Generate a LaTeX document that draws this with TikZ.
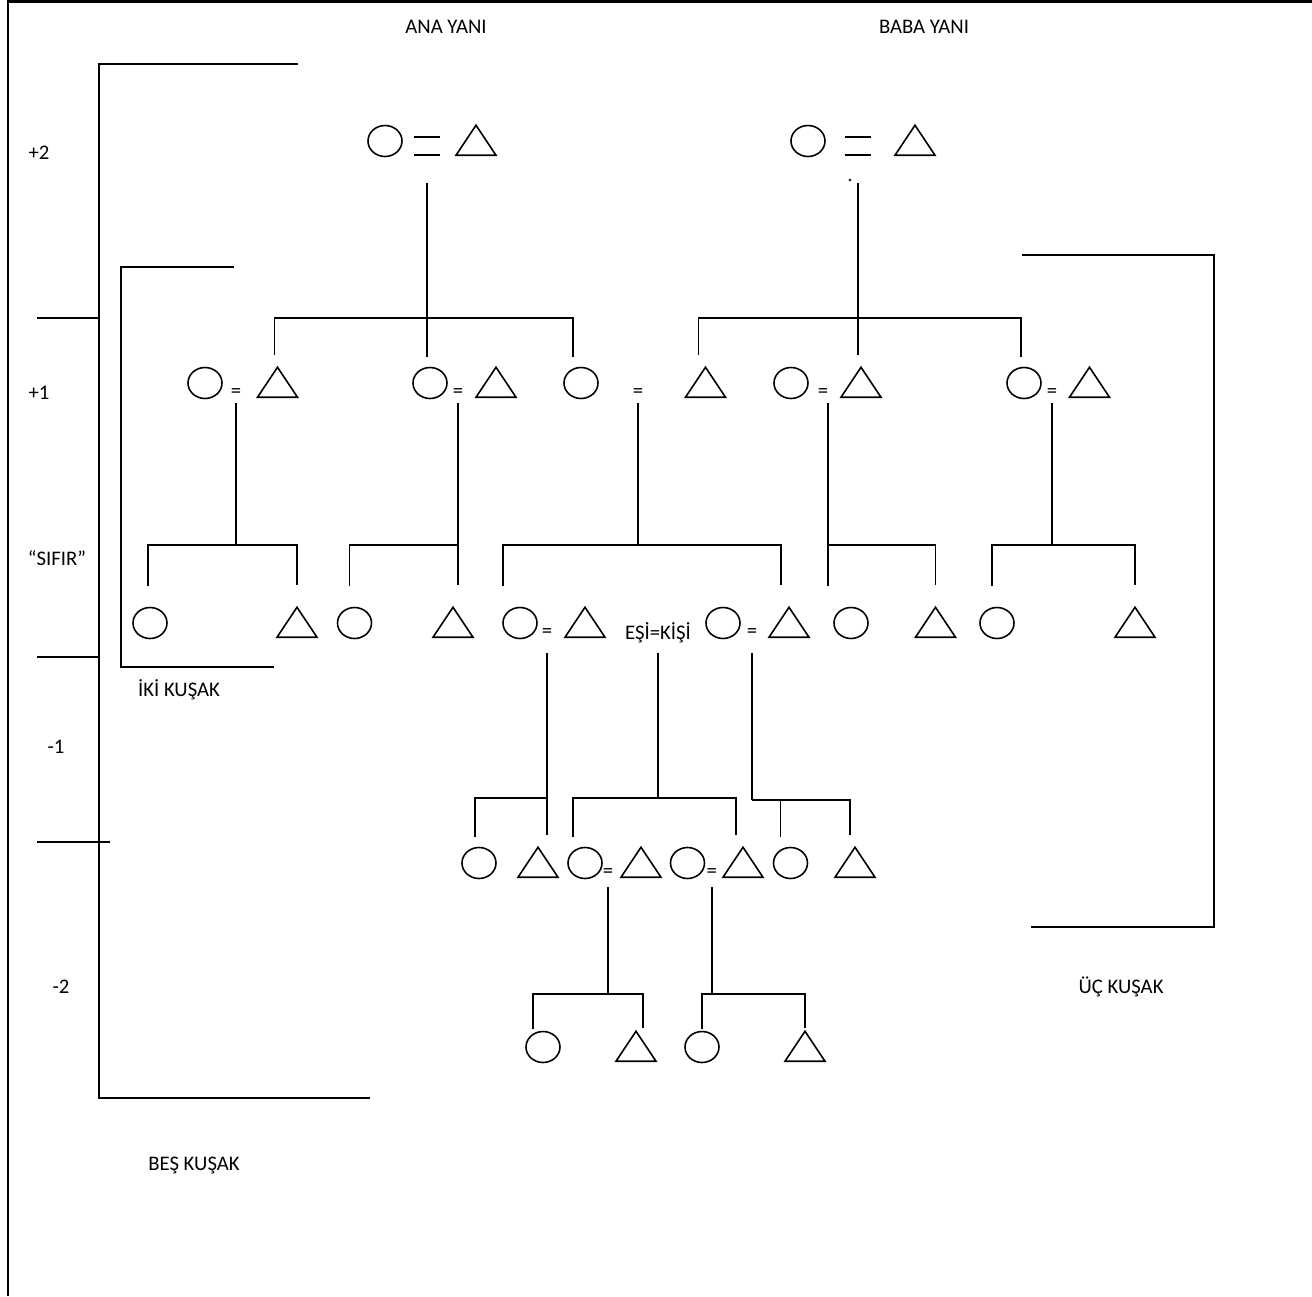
\documentclass[tikz,border=0pt]{standalone}
\usepackage{fontspec}
\setmainfont{Carlito}
\usetikzlibrary{positioning,shapes.geometric,calc}

\begin{document}
\begin{tikzpicture}[
    x=0.02cm, y=-0.02cm,
    font=\fontsize{11.8}{14}\selectfont,
    line/.style={line width=1.1pt},
    kad/.style={ellipse, draw, line width=0.9pt, minimum width=0.68cm,
      minimum height=0.62cm, inner sep=0pt},
    erk/.style={isosceles triangle, isosceles triangle stretches,
      shape border rotate=90, draw, line width=0.9pt, minimum width=0.8cm,
      minimum height=0.6cm, inner sep=0pt, anchor=south, yshift=-0.3cm},
    es/.style={inner sep=0pt},
    bigeq/.style={inner sep=0pt, minimum width=0.52cm, minimum height=0.33cm},
    kid/.style={line, shorten <=#1, shorten >=#1},
    lab/.style={inner sep=0pt},
  ]
\useasboundingbox (0,0) rectangle (1312,1296);

% Page frame
\draw[line width=1.4pt] (8,1296) -- (8,1.5) -- (1312,1.5);

% Side labels
\node[lab] (ana) at (446,27) {ANA YANI};
\node[lab] (baba) at (924,27) {BABA YANI};
\node[lab] (g2) at (39,153) {+2};
\node[lab] (g1) at (39,393) {+1};
\node[lab] (g0) at (57,558) {“SIFIR”};
\node[lab] (gm1) at (56,747) {-1};
\node[lab] (gm2) at (61,987) {-2};
\node[lab] (iki) at (179,690) {İKİ KUŞAK};
\node[lab] (bes) at (194,1165) {BEŞ KUŞAK};
\node[lab] (uc) at (1121,987) {ÜÇ KUŞAK};

% Brackets
\draw[line] (298,64) -- (99,64) -- (99,1098) -- (370,1098);
\draw[line] (37,318) -- (99,318) (37,657) -- (99,657) (37,842) -- (110,842);
\draw[line] (234,267) -- (121,267) -- (121,667) -- (274,667);
\draw[line] (1022,255) -- (1214,255) -- (1214,927) -- (1031,927);

% +2
\node[kad] (kp2a) at (385,141) {};
\node[bigeq] (qp2a) at (427,146) {};
\node[erk] (ep2a) at (476,141) {};
\node[kad] (kp2b) at (808,141) {};
\node[bigeq] (qp2b) at (858,146) {};
\node[erk] (ep2b) at (915,141) {};
\draw[line] (qp2a.north west) -- (qp2a.north east) (qp2a.south west) -- (qp2a.south east);
\draw[line] (qp2b.north west) -- (qp2b.north east) (qp2b.south west) -- (qp2b.south east);
\fill (850,180) circle[radius=0.8pt];

% +1
\node[kad] (kp1a) at (205,383) {};
\node[es] (qp1a) at (236,393) {=};
\node[erk] (ep1a) at (277.5,383) {};
\node[kad] (kp1b) at (430,383) {};
\node[es] (qp1b) at (458,393) {=};
\node[erk] (ep1b) at (496,383) {};
\node[kad] (kp1c) at (581,383) {};
\node[es] (qp1c) at (638,393) {=};
\node[erk] (ep1c) at (705.5,383) {};
\node[kad] (kp1d) at (791,383) {};
\node[es] (qp1d) at (823,393) {=};
\node[erk] (ep1d) at (861,383) {};
\node[kad] (kp1e) at (1024,383) {};
\node[es] (qp1e) at (1052,393) {=};
\node[erk] (ep1e) at (1089.5,383) {};

\coordinate (jp2a) at (qp2a |- 0,318);
\coordinate (jp2b) at (qp2b |- 0,318);
\draw[line, shorten <=0.56cm, shorten >=0.2cm] (qp2a.south) -- (qp2a.south |- kp1b.north);
\draw[kid=0.2cm] ($(ep1a.north)+(-3,0)$) |- (jp2a) -| ($(kp1c.north)+(-8,0)$);
\draw[line, shorten <=0.56cm, shorten >=0.2cm] (qp2b.south) -- (qp2b.south |- ep1d.north);
\draw[kid=0.2cm] ($(ep1c.north)+(-7,0)$) |- (jp2b) -| ($(kp1e.north)+(-3,0)$);

% 0
\node[kad] (kz1) at (150,623) {};
\node[erk] (ez1) at (297,623) {};
\node[kad] (kz2) at (354.5,623) {};
\node[erk] (ez2) at (453,623) {};
\node[kad] (kz3) at (520,623) {};
\node[es] (qz3) at (547,633) {=};
\node[erk] (ez3) at (585,623) {};
\node[lab] (ego) at (658,633) {EŞİ=KİŞİ};
\node[kad] (kz4) at (723,623) {};
\node[es] (qz4) at (752,633) {=};
\node[erk] (ez4) at (789,623) {};
\node[kad] (kz5) at (851,623) {};
\node[erk] (ez5) at (935.5,623) {};
\node[kad] (kz6) at (997,623) {};
\node[erk] (ez6) at (1135,623) {};

\coordinate (jp1a) at (qp1a |- 0,545);
\coordinate (jp1b) at (qp1b |- 0,545);
\coordinate (jp1c) at (qp1c |- 0,545);
\coordinate (jp1d) at ($(qp1d |- 0,545)+(5,0)$);
\coordinate (jp1e) at (qp1e |- 0,545);
\draw[line, shorten <=0.2cm] (qp1a.center) -- (jp1a);
\draw[kid=0.41cm] ($(kz1.north)+(-2,0)$) |- (jp1a) -| (ez1.north);
\draw[line, shorten <=0.2cm, shorten >=0.41cm] (qp1b.center) -- (qp1b.center |- ez2.north);
\draw[line, shorten <=0.41cm] ($(kz2.north)+(-5,0)$) |- (jp1b);
\draw[line, shorten <=0.2cm] (qp1c.center) -- (jp1c);
\draw[kid=0.41cm] ($(kz3.north)+(-17,0)$) |- (jp1c) -| ($(ez4.north)+(-8,0)$);
\draw[line, shorten <=0.2cm, shorten >=0.41cm] ($(qp1d.center)+(5,0)$) -- (jp1d |- kz5.north);
\draw[line, shorten >=0.41cm] (jp1d) -| (ez5.north);
\draw[line, shorten <=0.2cm] (qp1e.center) -- (jp1e);
\draw[kid=0.41cm] ($(kz6.north)+(-5,0)$) |- (jp1e) -| (ez6.north);

% -1
\node[kad] (kn1) at (479,863) {};
\node[erk] (en1) at (538,863) {};
\node[kad] (kn2) at (585,863) {};
\node[es] (qn2) at (608,873) {=};
\node[erk] (en2) at (641,863) {};
\node[kad] (kn3) at (687.5,863) {};
\node[es] (qn3) at (711.7,873) {=};
\node[erk] (en3) at (743,863) {};
\node[kad] (kn4) at (790.5,863) {};
\node[erk] (en4) at (855,863) {};

\coordinate (jz3) at (qz3 |- 0,798);
\coordinate (jego) at (ego |- 0,798);
\coordinate (jz4) at (qz4 |- 0,800);
\draw[line, shorten <=0.4cm, shorten >=0.2cm] (qz3.center) -- (qz3.center |- en1.north);
\draw[line, shorten <=0.2cm] ($(kn1.north)+(-4,0)$) |- (jz3);
\draw[line, shorten <=0.4cm] (ego.center) -- (jego);
\draw[kid=0.2cm] ($(kn2.north)+(-12,0)$) |- (jego) -| ($(en3.north)+(-7,0)$);
\draw[line, shorten <=0.4cm] (qz4.center) -- (jz4);
\draw[kid=0.2cm] ($(kn4.north)+(-10,0)$) |- (jz4) -| ($(en4.north)+(-5,0)$);

% -2
\node[kad] (km1) at (543,1047) {};
\node[erk] (em1) at (636,1047) {};
\node[kad] (km2) at (702,1047) {};
\node[erk] (em2) at (805,1047) {};

\coordinate (jn2) at (qn2 |- 0,994);
\coordinate (jn3) at (qn3 |- 0,994);
\draw[line, shorten <=0.28cm] (qn2.center) -- (jn2);
\draw[kid=0.03cm] ($(km1.north)+(-10,0)$) |- (jn2) -| ($(em1.north)+(7,0)$);
\draw[line, shorten <=0.28cm] (qn3.center) -- (jn3);
\draw[kid=0.03cm] (km2.north) |- (jn3) -| (em2.north);

\end{tikzpicture}
\end{document}
